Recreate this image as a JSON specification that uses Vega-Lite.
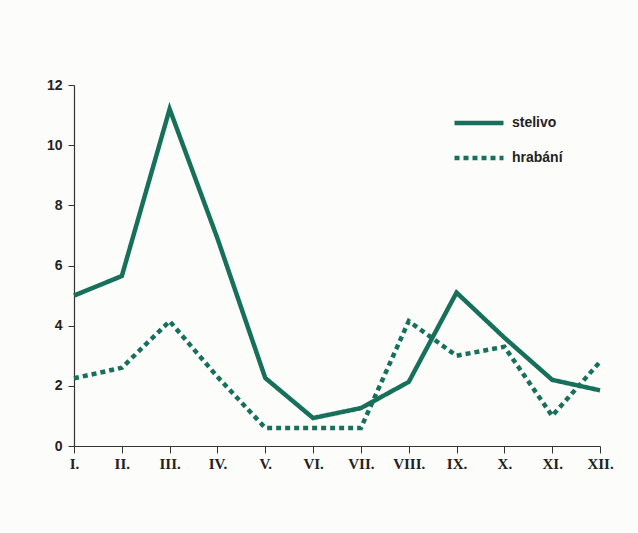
{
  "$schema": "https://vega.github.io/schema/vega-lite/v6.json",
  "width": 526,
  "height": 361,
  "autosize": "none",
  "padding": {"left": 74, "top": 85, "right": 38, "bottom": 87},
  "background": "#fcfcfa",
  "data": {"values": [
    {"m": "I.", "s": "stelivo", "v": 5.0},
    {"m": "II.", "s": "stelivo", "v": 5.65},
    {"m": "III.", "s": "stelivo", "v": 11.2},
    {"m": "IV.", "s": "stelivo", "v": 6.9},
    {"m": "V.", "s": "stelivo", "v": 2.26},
    {"m": "VI.", "s": "stelivo", "v": 0.93},
    {"m": "VII.", "s": "stelivo", "v": 1.26},
    {"m": "VIII.", "s": "stelivo", "v": 2.13},
    {"m": "IX.", "s": "stelivo", "v": 5.1},
    {"m": "X.", "s": "stelivo", "v": 3.6},
    {"m": "XI.", "s": "stelivo", "v": 2.2},
    {"m": "XII.", "s": "stelivo", "v": 1.85},
    {"m": "I.", "s": "hrabání", "v": 2.25},
    {"m": "II.", "s": "hrabání", "v": 2.6},
    {"m": "III.", "s": "hrabání", "v": 4.15},
    {"m": "IV.", "s": "hrabání", "v": 2.3},
    {"m": "V.", "s": "hrabání", "v": 0.6},
    {"m": "VI.", "s": "hrabání", "v": 0.6},
    {"m": "VII.", "s": "hrabání", "v": 0.6},
    {"m": "VIII.", "s": "hrabání", "v": 4.15},
    {"m": "IX.", "s": "hrabání", "v": 3.0},
    {"m": "X.", "s": "hrabání", "v": 3.3},
    {"m": "XI.", "s": "hrabání", "v": 1.0},
    {"m": "XII.", "s": "hrabání", "v": 2.8}
  ]},
  "mark": {"type": "line", "strokeWidth": 4.5, "strokeCap": "butt", "strokeJoin": "miter"},
  "encoding": {
    "x": {
      "field": "m", "type": "ordinal",
      "sort": ["I.", "II.", "III.", "IV.", "V.", "VI.", "VII.", "VIII.", "IX.", "X.", "XI.", "XII."],
      "scale": {"type": "point", "padding": 0},
      "axis": {
        "title": null, "labelAngle": 0, "grid": false,
        "labelFont": "Liberation Serif", "labelFontWeight": "bold", "labelFontSize": 15,
        "labelColor": "#222", "labelPadding": 3,
        "tickSize": 7, "tickColor": "#333", "domainColor": "#333", "domainWidth": 1.2
      }
    },
    "y": {
      "field": "v", "type": "quantitative",
      "scale": {"domain": [0, 12], "nice": false},
      "axis": {
        "title": null, "values": [0, 2, 4, 6, 8, 10, 12], "grid": false,
        "labelFont": "Liberation Sans", "labelFontWeight": "bold", "labelFontSize": 14,
        "labelColor": "#222", "labelPadding": 6,
        "tickSize": 6, "tickColor": "#333", "domainColor": "#333", "domainWidth": 1.2
      }
    },
    "color": {
      "field": "s", "type": "nominal",
      "scale": {"domain": ["stelivo", "hrabání"], "range": ["#17705a", "#17705a"]},
      "legend": {
        "title": null, "orient": "none", "legendX": 385, "legendY": 18,
        "symbolType": "M-1.4,0H1.4", "symbolSize": 1225, "symbolStrokeWidth": 4.5,
        "labelFont": "Liberation Sans", "labelFontWeight": "bold", "labelFontSize": 14,
        "labelColor": "#222", "rowPadding": 6, "labelOffset": 13
      }
    },
    "strokeDash": {
      "field": "s", "type": "nominal",
      "scale": {"domain": ["stelivo", "hrabání"], "range": [[1, 0], [5, 4]]},
      "legend": {
        "title": null, "orient": "none", "legendX": 385, "legendY": 18,
        "symbolType": "M-1.4,0H1.4", "symbolSize": 1225, "symbolStrokeWidth": 4.5,
        "labelFont": "Liberation Sans", "labelFontWeight": "bold", "labelFontSize": 14,
        "labelColor": "#222", "rowPadding": 6, "labelOffset": 13
      }
    }
  },
  "config": {"view": {"stroke": null}}
}
